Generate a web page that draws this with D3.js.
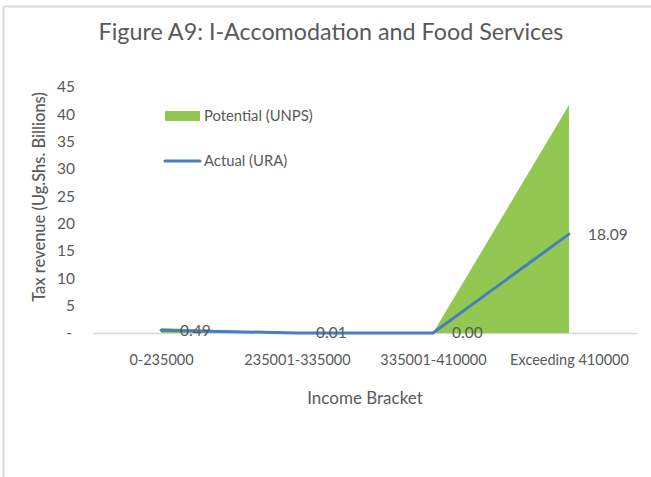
<!DOCTYPE html>
<html lang="en">
    <head>
        <meta charset="utf-8">
        <script type="text/javascript" src="https://cdn.jsdelivr.net/npm/d3@7"></script>
        <style type="text/css">
            body {
              margin: 0;
              background: #ffffff;
            }
            text {
              font-family: Lato, "Open Sans", sans-serif;
              fill: #595959;
            }
        </style>
    </head>
    <body>
        <script type="text/javascript">
            // chart data
            var brackets = ["0-235000", "235001-335000", "335001-410000", "Exceeding 410000"];
            var potential = [0.9, 0.02, 0, 41.7];
            var actual = [0.49, 0.01, 0.00, 18.09];
            var actualLabels = ["0.49", "0.01", "0.00", "18.09"];
            var yTicks = [0, 5, 10, 15, 20, 25, 30, 35, 40, 45];
            var seriesNames = ["Potential (UNPS)", "Actual (URA)"];

            var w = 651, h = 477;
            var plot = {left: 93, right: 637, top: 87, bottom: 333};

            var svg = d3.select("body")
              .append("svg")
              .attr("width", w)
              .attr("height", h);

            // frame of the chart box (cropped on the right and bottom)
            svg.append("line")
              .attr("x1", 4).attr("x2", w)
              .attr("y1", 6.5).attr("y2", 6.5)
              .attr("stroke", "#d9d9d9").attr("stroke-width", 2);
            svg.append("line")
              .attr("x1", 3.5).attr("x2", 3.5)
              .attr("y1", 6).attr("y2", h)
              .attr("stroke", "#d9d9d9").attr("stroke-width", 2);

            // scales
            var xScale = d3.scalePoint()
              .domain(brackets)
              .range([plot.left, plot.right])
              .padding(0.5);
            var yScale = d3.scaleLinear()
              .domain([0, 45])
              .range([plot.bottom, plot.top]);

            // title
            svg.append("text")
              .attr("x", 331)
              .attr("y", 40)
              .attr("text-anchor", "middle")
              .style("font-size", "23.3px")
              .text("Figure A9: I-Accomodation and Food Services");

            // y axis (labels only, zero shown as a dash)
            var yAxis = d3.axisLeft(yScale)
              .tickValues(yTicks)
              .tickSize(0)
              .tickPadding(0)
              .tickFormat(function(d) { return d === 0 ? "-" : d; });
            var gy = svg.append("g")
              .attr("class", "y axis")
              .attr("transform", "translate(75,0)")
              .call(yAxis);
            gy.select(".domain").remove();
            gy.selectAll("text")
              .style("font-size", "15.5px")
              .attr("fill", "#595959")
              .attr("dx", function(d) { return d === 0 ? -3 : 0; });

            // x axis baseline and labels
            var xAxis = d3.axisBottom(xScale).tickSize(0).tickPadding(0);
            var gx = svg.append("g")
              .attr("class", "x axis")
              .attr("transform", "translate(0," + plot.bottom + ")")
              .call(xAxis);
            gx.select(".domain")
              .attr("stroke", "#d9d9d9")
              .attr("stroke-width", 1.5);
            gx.selectAll("text")
              .style("font-size", "14.5px")
              .attr("fill", "#595959")
              .attr("y", 32)
              .attr("dy", 0);

            // area for potential
            var area = d3.area()
              .x(function(d, i) { return xScale(brackets[i]); })
              .y0(yScale(0))
              .y1(function(d) { return yScale(d); });
            svg.append("path")
              .datum(potential)
              .attr("d", area)
              .attr("fill", "#92c852");

            // line for actual
            var line = d3.line()
              .x(function(d, i) { return xScale(brackets[i]); })
              .y(function(d) { return yScale(d); });
            svg.append("path")
              .datum(actual)
              .attr("d", line)
              .attr("fill", "none")
              .attr("stroke", "#4a7ebf")
              .attr("stroke-width", 3)
              .attr("stroke-linejoin", "round")
              .attr("stroke-linecap", "round");

            // data labels to the right of each point
            svg.selectAll(".label")
              .data(actual)
              .enter()
              .append("text")
              .attr("class", "label")
              .attr("x", function(d, i) { return xScale(brackets[i]) + 19; })
              .attr("y", function(d) { return yScale(d); })
              .attr("dy", "0.35em")
              .style("font-size", "15.5px")
              .text(function(d, i) { return actualLabels[i]; });

            // legend
            svg.append("rect")
              .attr("x", 165).attr("y", 111)
              .attr("width", 35).attr("height", 10)
              .attr("fill", "#92c852");
            svg.append("line")
              .attr("x1", 165).attr("x2", 200)
              .attr("y1", 161).attr("y2", 161)
              .attr("stroke", "#4a7ebf")
              .attr("stroke-width", 3)
              .attr("stroke-linecap", "round");
            svg.selectAll(".legend")
              .data(seriesNames)
              .enter()
              .append("text")
              .attr("class", "legend")
              .attr("x", 204)
              .attr("y", function(d, i) { return 116 + i * 45; })
              .attr("dy", "0.35em")
              .style("font-size", "14.8px")
              .text(function(d) { return d; });

            // axis titles
            svg.append("text")
              .attr("x", 365)
              .attr("y", 398)
              .attr("dy", "0.35em")
              .attr("text-anchor", "middle")
              .style("font-size", "17px")
              .text("Income Bracket");
            svg.append("text")
              .attr("transform", "translate(39,197) rotate(-90)")
              .attr("dy", "0.35em")
              .attr("text-anchor", "middle")
              .style("font-size", "16.5px")
              .style("font-weight", "500")
              .text("Tax revenue (Ug.Shs. Billions)");
        </script>
    </body>
</html>
